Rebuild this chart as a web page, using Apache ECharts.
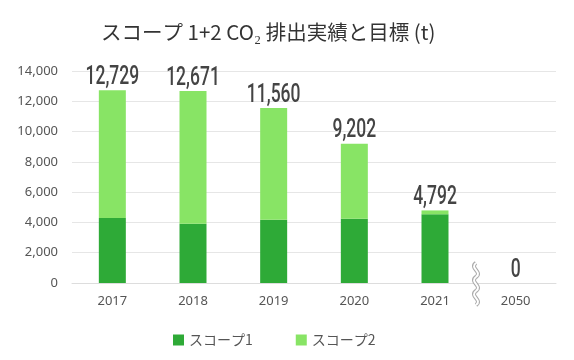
<!DOCTYPE html>
<html><head><meta charset="utf-8">
<script src="https://cdn.jsdelivr.net/npm/echarts@6/dist/echarts.min.js"></script>
<style>html,body{margin:0;padding:0;background:#fff}#c{width:574px;height:360px}</style>
</head><body><div id="c"></div>
<script>
const categories = ['2017','2018','2019','2020','2021','2050'];
const scope1 = [4290, 3910, 4180, 4250, 4540, 0];
const scope2 = [8439, 8761, 7380, 4952, 252, 0];
const totals = [12729, 12671, 11560, 9202, 4792, 0];
const yTicks = [0, 2000, 4000, 6000, 8000, 10000, 12000, 14000];

const fmt = v => v.toLocaleString('en-US');

function wave(stroke, lw) {
  const segs = [];
  const x = 476, y0 = 263, h = 14;
  for (let i = 0; i < 3; i++) {
    const ya = y0 + i * h;
    segs.push({
      type: 'bezierCurve', silent: true, z: 100,
      shape: {x1: x, y1: ya, x2: x, y2: ya + h, cpx1: x - 7, cpy1: ya + h * 0.35, cpx2: x + 7, cpy2: ya + h * 0.65},
      style: {fill: 'none', stroke: stroke, lineWidth: lw}
    });
  }
  return segs;
}

const chart = echarts.init(document.getElementById('c'));
chart.setOption({
  animation: false,
  title: {
    text: 'スコープ 1+2 CO₂ 排出実績と目標 (t)',
    left: 96, top: 17,
    textStyle: {fontFamily: "'Noto Sans CJK JP'", fontSize: 20.5, fontWeight: 'normal', color: '#333'}
  },
  legend: {
    left: 168, top: 328, itemWidth: 11, itemHeight: 11, itemGap: 43,
    icon: 'rect',
    textStyle: {fontFamily: "'Noto Sans CJK JP'", fontSize: 14, color: '#555'},
    data: ['スコープ1', 'スコープ2']
  },
  grid: {left: 72, right: 18, top: 71, bottom: 77, containLabel: false},
  xAxis: {
    type: 'category', data: categories,
    axisLine: {lineStyle: {color: '#ddd'}}, axisTick: {show: false},
    axisLabel: {fontFamily: "'Noto Sans'", fontSize: 13, color: '#555', margin: 12}
  },
  yAxis: {
    type: 'value', min: yTicks[0], max: yTicks[yTicks.length-1], interval: 2000,
    axisLabel: {fontFamily: "'Noto Sans'", fontSize: 13, color: '#555', margin: 14, formatter: v => fmt(v)},
    splitLine: {lineStyle: {color: '#e6e6e6'}}
  },
  series: [
    {name: 'スコープ1', type: 'bar', stack: 's', data: scope1, barWidth: 27,
     itemStyle: {color: '#2eaa37'}},
    {name: 'スコープ2', type: 'bar', stack: 's', data: scope2, barWidth: 27,
     itemStyle: {color: '#88e465'}}
  ]
});

// total labels: condensed look via horizontal scaling, positioned with the chart's own scales
const labels = categories.map((c, i) => {
  const p = chart.convertToPixel({seriesIndex: 1}, [i, totals[i]]);
  return {
    type: 'text', silent: true, z: 50,
    x: p[0], y: p[1] - 12.5, scaleX: 0.7, scaleY: 1,
    style: {
      text: fmt(totals[i]), align: 'center', verticalAlign: 'middle',
      font: "500 25px Roboto, 'Noto Sans', sans-serif", fill: '#444'
    }
  };
});
chart.setOption({graphic: labels.concat(wave('#aaa', 4), wave('#fff', 2))});
</script></body></html>
